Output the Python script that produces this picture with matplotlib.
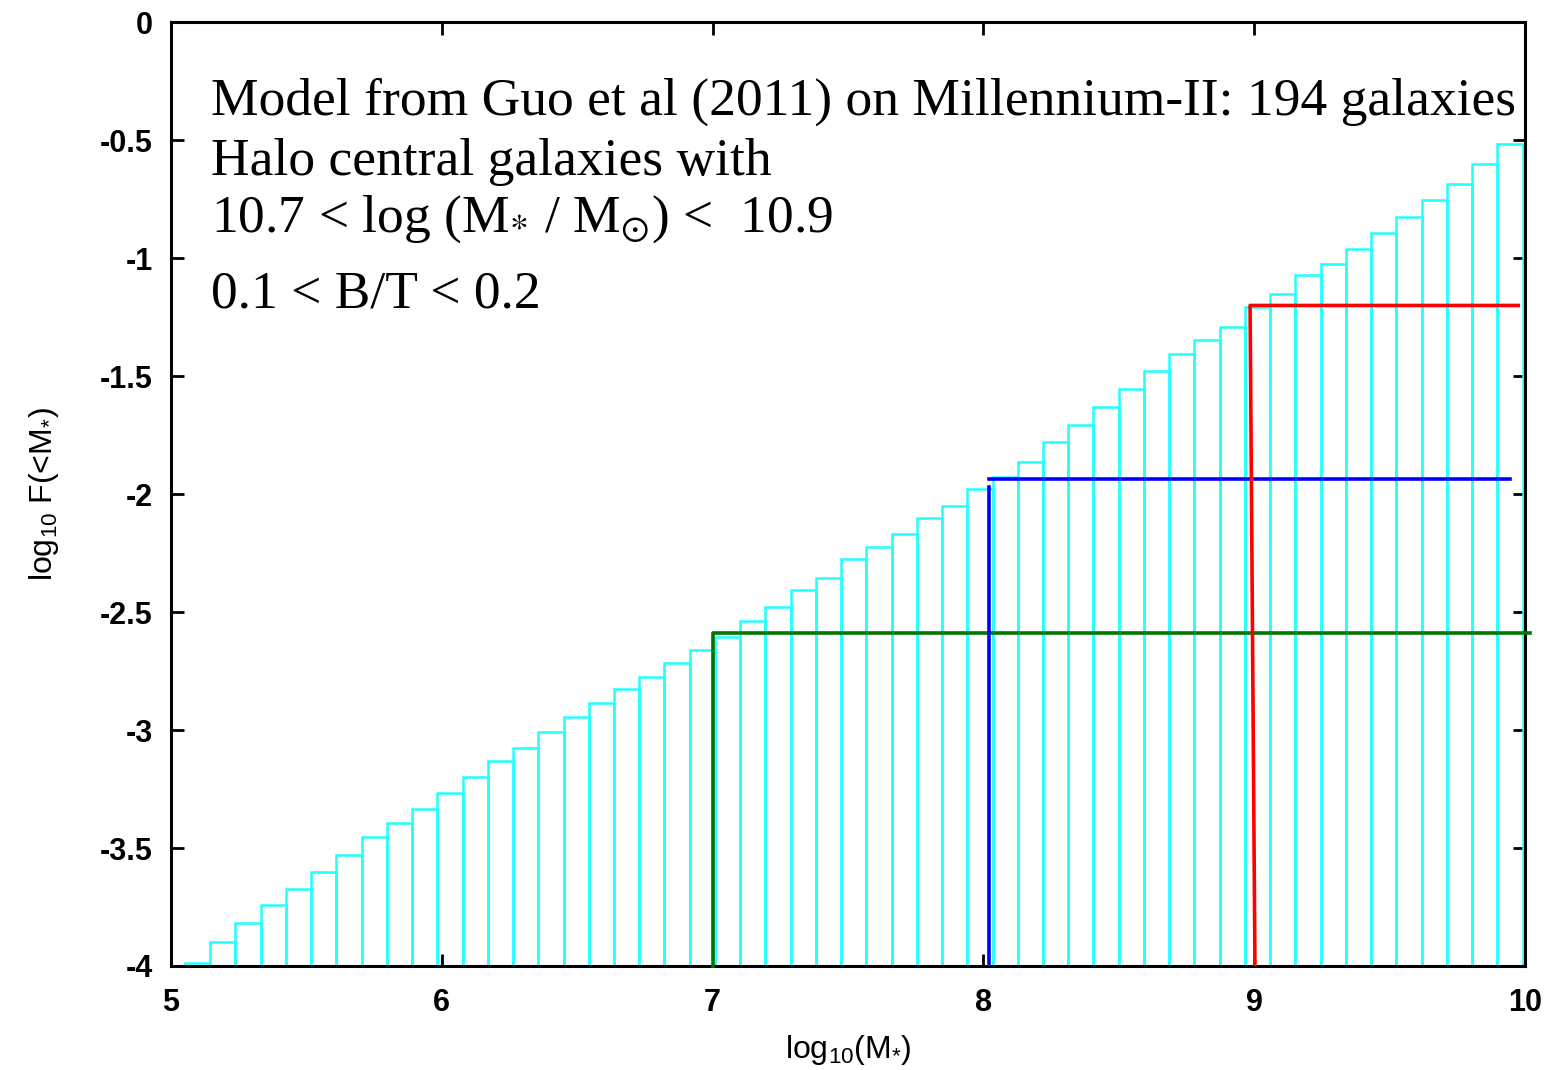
import matplotlib
matplotlib.use("Agg")
import matplotlib.pyplot as plt
import numpy as np

plt.rcParams['mathtext.fontset'] = 'custom'
plt.rcParams['mathtext.rm'] = 'Liberation Sans'
plt.rcParams['mathtext.it'] = 'Liberation Sans'
plt.rcParams['mathtext.bf'] = 'Liberation Sans:bold'

# cumulative histogram, log10 F(<M*), 53 uniform bins between these edges
bin_lo, bin_hi = 5.052, 9.991
tops = [-3.987, -3.900, -3.819, -3.740, -3.672, -3.603, -3.530, -3.452, -3.393, -3.335,
        -3.268, -3.198, -3.133, -3.075, -3.010, -2.945, -2.887, -2.828, -2.774, -2.716,
        -2.661, -2.605, -2.537, -2.477, -2.407, -2.355, -2.275, -2.225, -2.168, -2.103,
        -2.052, -1.980, -1.927, -1.864, -1.780, -1.708, -1.633, -1.554, -1.477, -1.405,
        -1.349, -1.294, -1.208, -1.151, -1.072, -1.027, -0.960, -0.893, -0.828, -0.754,
        -0.688, -0.603, -0.518]

# marker lines (x, y) for the three thresholds
green_x = [7.0, 7.0, 10.02]
green_y = [-4.0, -2.587, -2.587]
blue_vx = [8.02, 8.02]
blue_vy = [-4.0, -1.97]
blue_hx = [8.02, 9.945]
blue_hy = [-1.935, -1.935]
red_x = [9.003, 8.985, 9.975]
red_y = [-4.0, -1.201, -1.201]

annot = ["Model from Guo et al (2011) on Millennium-II: 194 galaxies",
         "Halo central galaxies with",
         r"10.7 < log (M$_{*}$ / M$_{\odot}$) <  10.9",
         "0.1 < B/T < 0.2"]

fig = plt.figure(figsize=(15.54, 10.70), dpi=100)
ax = fig.add_axes([0.110, 0.0972, 0.8713, 0.8822])

edges = np.linspace(bin_lo, bin_hi, len(tops) + 1)
ymin = -4.0
ax.bar(edges[:-1], np.array(tops) - ymin, width=np.diff(edges), bottom=ymin, align='edge',
       fill=False, edgecolor='#22ffff', linewidth=1.8, zorder=2)

ax.plot(green_x, green_y, color='#007700', lw=2.6, clip_on=False, zorder=3)
ax.plot(blue_vx, blue_vy, color='#0000ff', lw=2.6, zorder=3)
ax.plot(blue_hx, blue_hy, color='#0000ff', lw=2.6, zorder=3)
ax.plot(red_x, red_y, color='#ff0000', lw=2.6, zorder=3)

ax.set_xlim(5, 10)
ax.set_ylim(-4, 0)
ax.set_xticks([5, 6, 7, 8, 9, 10])
ax.set_yticks([-4, -3.5, -3, -2.5, -2, -1.5, -1, -0.5, 0])
ax.set_yticklabels(['-4', '-3.5', '-3', '-2.5', '-2', '-1.5', '-1', '-0.5', '0'])
ax.tick_params(direction='in', length=9, width=2, top=True, right=True,
               labelsize=22)
ax.tick_params(axis='y', pad=13)
ax.tick_params(axis='x', pad=16)
for lab in ax.get_xticklabels() + ax.get_yticklabels():
    lab.set_fontweight('bold')
    lab.set_fontfamily('Liberation Sans')
for sp in ax.spines.values():
    sp.set_linewidth(2.2)

ax.set_xlabel(r"log$_{10}$(M$_{*}$)", fontsize=23, family='Liberation Sans', labelpad=11)
ax.set_ylabel(r"log$_{10}$ F(<M$_{*}$)", fontsize=23, family='Liberation Sans', labelpad=28)

ys = [0.9015, 0.838, 0.7775, 0.698]
for s, yy in zip(annot, ys):
    ax.text(0.0295, yy, s, transform=ax.transAxes, fontsize=38.5, family='Liberation Serif',
            math_fontfamily='stix', va='baseline', ha='left', zorder=4)

fig.savefig("out.png", dpi=100)
